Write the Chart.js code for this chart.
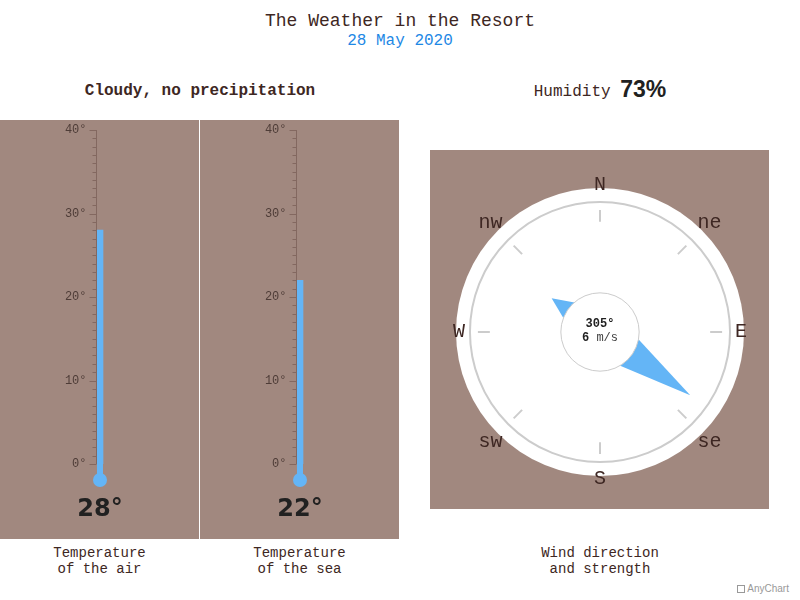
<!DOCTYPE html>
<html>
<head>
<meta charset="utf-8">
<script src="https://cdn.jsdelivr.net/npm/chart.js@4/dist/chart.umd.min.js"></script>
<style>
  html, body { margin: 0; padding: 0; background: #fff; }
  body { width: 800px; height: 600px; position: relative; overflow: hidden; font-family: "Liberation Mono", "DejaVu Sans Mono", monospace; color: #3e2723; }
  .abs { position: absolute; }
  .center { text-align: center; white-space: nowrap; }
  .panel { position: absolute; background: #a1887f; }
  canvas { position: absolute; left: 0; top: 0; }
</style>
</head>
<body>
<div class="abs center" style="left:0;width:800px;top:10px;font-size:18px;line-height:22px;">The Weather in the Resort</div>
<div class="abs center" style="left:0;width:800px;top:31px;font-size:16px;line-height:20px;color:#1e88e5;">28 May 2020</div>
<div class="abs center" style="left:0;width:400px;top:80px;font-size:16px;line-height:22px;font-weight:bold;" id="sky"></div>
<div class="abs center" style="left:400px;width:400px;top:74px;font-size:16px;line-height:30px;" id="hum"></div>

<div class="panel" style="left:0;top:120px;width:199px;height:419px;"><canvas id="air" width="199" height="419"></canvas></div>
<div class="panel" style="left:200px;top:120px;width:199px;height:419px;"><canvas id="sea" width="199" height="419"></canvas></div>
<div class="panel" style="left:430px;top:150px;width:339px;height:359px;"><canvas id="wind" width="339" height="359"></canvas></div>

<div class="abs center" style="left:0;width:199px;top:545px;font-size:14px;line-height:16px;">Temperature<br>of the air</div>
<div class="abs center" style="left:200px;width:199px;top:545px;font-size:14px;line-height:16px;">Temperature<br>of the sea</div>
<div class="abs center" style="left:400px;width:400px;top:545px;font-size:14px;line-height:16px;">Wind direction<br>and strength</div>
<div class="abs" style="left:737px;top:582px;font-family:'Liberation Sans',Arial,sans-serif;font-size:10px;line-height:14px;color:#999;">
  <span style="display:inline-block;width:8px;height:8px;border:1px solid #999;vertical-align:-1px;box-sizing:border-box;"></span> AnyChart</div>

<script>
// ---- data ----
const skyText = ['Cloudy, no precipitation'];
const humidity = [73];
const airTemperature = [28];
const seaTemperature = [22];
const tempTickLabels = [0, 10, 20, 30, 40];
const windDirection = [305];
const windSpeed = [6];
const compassLabels = ['N', 'ne', 'E', 'se', 'S', 'sw', 'W', 'nw'];
const compassAngles = [0, 45, 90, 135, 180, 225, 270, 315];

document.getElementById('sky').textContent = skyText[0];
document.getElementById('hum').innerHTML = 'Humidity <span style="font-family:\'Liberation Sans\',Arial,sans-serif;font-weight:bold;font-size:23px;vertical-align:-1px;color:#212121;">' + humidity[0] + '%</span>';

const BLUE = '#64b5f6';

const thermoPlugin = {
  id: 'thermo',
  afterDatasetsDraw(chart) {
    const ctx = chart.ctx;
    const y = chart.scales.y;
    const meta = chart.getDatasetMeta(0);
    const bar = meta.data[0];
    const bx = bar.x;
    const axisX = bx - 3.5;
    const y0 = y.getPixelForValue(0);
    ctx.save();
    // stem + bulb
    ctx.fillStyle = BLUE;
    ctx.fillRect(bx - 3, bar.y, 6, y0 + 16 - bar.y);
    ctx.beginPath();
    ctx.arc(bx, y0 + 16, 7, 0, Math.PI * 2);
    ctx.fill();
    // axis
    ctx.strokeStyle = '#836860';
    ctx.lineWidth = 1;
    ctx.beginPath();
    ctx.moveTo(axisX, y.getPixelForValue(y.max));
    ctx.lineTo(axisX, y0);
    ctx.stroke();
    for (let v = y.min; v <= y.max; v++) {
      const py = Math.round(y.getPixelForValue(v)) + 0.5;
      const major = tempTickLabels.includes(v);
      ctx.beginPath();
      ctx.moveTo(axisX - (major ? 7 : 4), py);
      ctx.lineTo(axisX, py);
      ctx.stroke();
    }
    ctx.fillStyle = '#4e3c37';
    ctx.font = '12px "Liberation Mono", monospace';
    ctx.textAlign = 'right';
    ctx.textBaseline = 'middle';
    tempTickLabels.forEach(v => {
      ctx.fillText(v + '°', axisX - 10, y.getPixelForValue(v));
    });
    // value
    const val = chart.data.datasets[0].data[0];
    ctx.fillStyle = '#212121';
    ctx.font = 'bold 24px "DejaVu Sans", sans-serif';
    ctx.textAlign = 'center';
    ctx.fillText(val + '°', bx, y0 + 46);
    ctx.restore();
  }
};

function thermo(id, label, values) {
  return new Chart(document.getElementById(id), {
    type: 'bar',
    data: {
      labels: [label],
      datasets: [{ data: values, backgroundColor: BLUE, barThickness: 6, borderWidth: 0 }]
    },
    options: {
      responsive: false,
      animation: false,
      layout: { padding: { top: 10, bottom: 75, left: 90, right: 89 } },
      plugins: { legend: { display: false }, tooltip: { enabled: false }, title: { display: false } },
      scales: {
        x: { display: false },
        y: { display: false, min: 0, max: 40 }
      }
    },
    plugins: [thermoPlugin]
  });
}
thermo('air', 'Temperature of the air', airTemperature);
thermo('sea', 'Temperature of the sea', seaTemperature);

// ---- compass ----
function polar(bearingDeg, r) {
  const a = bearingDeg * Math.PI / 180;
  return { x: Math.sin(a) * r, y: Math.cos(a) * r };
}
function arrowPoints(dir) {
  const a = dir * Math.PI / 180;
  const d = { x: Math.sin(a), y: Math.cos(a) };
  const p = { x: Math.cos(a), y: -Math.sin(a) };
  const head = 0.41, tail = 0.765, mid = 0.03, half = 0.172;
  const pts = [
    { x: d.x * head, y: d.y * head },
    { x: d.x * mid + p.x * half, y: d.y * mid + p.y * half },
    { x: -d.x * tail, y: -d.y * tail },
    { x: d.x * mid - p.x * half, y: d.y * mid - p.y * half }
  ];
  pts.push(pts[0]);
  return pts;
}

const dialPlugin = {
  id: 'dial',
  beforeDatasetsDraw(chart) {
    const ctx = chart.ctx;
    const sx = chart.scales.x, sy = chart.scales.y;
    const cx = sx.getPixelForValue(0), cy = sy.getPixelForValue(0);
    const R = sx.getPixelForValue(1) - cx;
    ctx.save();
    ctx.fillStyle = '#fff';
    ctx.beginPath(); ctx.arc(cx, cy, R, 0, Math.PI * 2); ctx.fill();
    ctx.strokeStyle = '#cccccc';
    ctx.lineWidth = 2;
    ctx.beginPath(); ctx.arc(cx, cy, R * 0.903, 0, Math.PI * 2); ctx.stroke();
    compassAngles.forEach(ang => {
      const a = polar(ang, 0.765), b = polar(ang, 0.848);
      ctx.beginPath();
      ctx.moveTo(sx.getPixelForValue(a.x), sy.getPixelForValue(a.y));
      ctx.lineTo(sx.getPixelForValue(b.x), sy.getPixelForValue(b.y));
      ctx.stroke();
    });
    ctx.fillStyle = '#3e2723';
    ctx.font = '20px "Liberation Mono", monospace';
    ctx.textAlign = 'center';
    ctx.textBaseline = 'middle';
    compassLabels.forEach((lab, i) => {
      const ang = compassAngles[i];
      let r = (ang % 90 === 0) ? ((ang % 180 === 0) ? 1.02 : 0.98) : 1.075;
      const q = polar(ang, r);
      ctx.fillText(lab, sx.getPixelForValue(q.x), sy.getPixelForValue(q.y));
    });
    ctx.restore();
  },
  afterDatasetsDraw(chart) {
    const ctx = chart.ctx;
    const sx = chart.scales.x, sy = chart.scales.y;
    const cx = sx.getPixelForValue(0), cy = sy.getPixelForValue(0);
    const R = sx.getPixelForValue(1) - cx;
    ctx.save();
    ctx.fillStyle = '#fff';
    ctx.strokeStyle = '#cccccc';
    ctx.lineWidth = 1;
    ctx.beginPath(); ctx.arc(cx, cy, R * 0.272, 0, Math.PI * 2); ctx.fill(); ctx.stroke();
    ctx.fillStyle = '#212121';
    ctx.textAlign = 'center';
    ctx.textBaseline = 'middle';
    ctx.font = 'bold 12px "Liberation Mono", monospace';
    ctx.fillText(windDirection[0] + '°', cx, cy - 8);
    const s1 = String(windSpeed[0]), s2 = ' m/s';
    ctx.font = 'bold 12px "Liberation Mono", monospace';
    const w1 = ctx.measureText(s1).width;
    ctx.font = '12px "Liberation Mono", monospace';
    const w2 = ctx.measureText(s2).width;
    const start = cx - (w1 + w2) / 2;
    ctx.textAlign = 'left';
    ctx.font = 'bold 12px "Liberation Mono", monospace';
    ctx.fillText(s1, start, cy + 6);
    ctx.font = '12px "Liberation Mono", monospace';
    ctx.fillStyle = '#424242';
    ctx.fillText(s2, start + w1, cy + 6);
    ctx.restore();
  }
};

new Chart(document.getElementById('wind'), {
  type: 'scatter',
  data: {
    datasets: [{
      data: arrowPoints(windDirection[0]),
      showLine: true,
      fill: 'shape',
      backgroundColor: BLUE,
      borderColor: BLUE,
      borderWidth: 0,
      pointRadius: 0,
      tension: 0
    }]
  },
  options: {
    responsive: false,
    animation: false,
    layout: { padding: { left: 26, right: 25, top: 38, bottom: 33 } },
    plugins: { legend: { display: false }, tooltip: { enabled: false } },
    scales: {
      x: { display: false, min: -1, max: 1 },
      y: { display: false, min: -1, max: 1 }
    }
  },
  plugins: [dialPlugin]
});
</script>
</body>
</html>
